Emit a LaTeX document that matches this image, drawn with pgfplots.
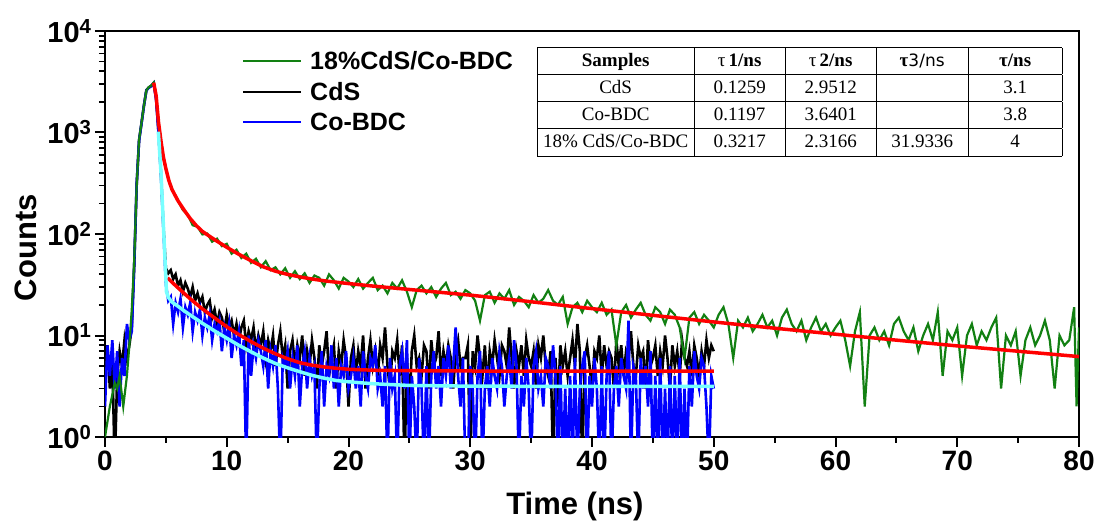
\documentclass[border=0pt]{standalone}
\usepackage{fontspec}
\setmainfont{Liberation Sans}
\newfontfamily\tabfont{Liberation Serif}
\newfontfamily\dvfont{DejaVu Sans}
\usepackage{pgfplots}
\pgfplotsset{compat=1.18}
\definecolor{dgreen}{RGB}{18,128,18}
\definecolor{dblue}{RGB}{0,0,255}
\definecolor{lcyan}{RGB}{120,255,255}
\definecolor{fred}{RGB}{255,0,0}
\begin{document}
\begin{tikzpicture}
\begin{axis}[name=ax, scale only axis, width=974pt, height=406pt,
  xmin=0, xmax=80, ymode=log, ymin=1, ymax=10000,
  xtick={0,10,...,80}, minor xtick={5,15,...,75},
  ytick={1,10,100,1000,10000},
  yticklabels={10\textsuperscript{0},10\textsuperscript{1},10\textsuperscript{2},10\textsuperscript{3},10\textsuperscript{4}},
  minor ytick={2,3,4,5,6,7,8,9,20,30,40,50,60,70,80,90,200,300,400,500,600,700,800,900,2000,3000,4000,5000,6000,7000,8000,9000},
  tick align=outside, xtick pos=left, ytick pos=left,
  major tick length=10pt, minor tick length=6pt,
  every major tick/.append style={black, line width=2pt},
  every minor tick/.append style={black, line width=1.8pt},
  axis line style={line width=2.2pt},
  xticklabel style={font=\fontsize{28}{30}\selectfont\bfseries, /pgf/number format/assume math mode=true},
  yticklabel style={font=\fontsize{29}{31}\selectfont\bfseries},
  xlabel={Time (ns)}, ylabel={Counts},
  label style={font=\fontsize{31}{34}\selectfont\bfseries},
  xlabel style={at={(axis description cs:0.4825,0)}, yshift=-69pt, anchor=center},
  ylabel style={at={(axis description cs:-0.081,0.466)}, anchor=center},
  legend cell align=left,
  legend style={draw=none, fill=none, at={(axis description cs:0.1407,0.955)}, anchor=north west,
    font=\fontsize{25}{28}\selectfont\bfseries, inner sep=0pt, row sep=7pt, column sep=6pt},
  legend image code/.code={\draw[#1, line width=2pt] (0pt,0pt) -- (58pt,0pt);},
]
\addlegendimage{dgreen}\addlegendentry{18\%CdS/Co-BDC}
\addlegendimage{black}\addlegendentry{CdS}
\addlegendimage{dblue}\addlegendentry{Co-BDC}

% CdS data
\addplot[black, line width=2.6pt, forget plot] coordinates {
(0,5)(0.2,8)(0.4,3)(0.6,6)(0.8,0.5)(1.0,4)(1.2,7)(1.4,5)(1.6,9)(1.8,6)(2.0,8)(2.2,12)(2.4,48)(2.6,300)(2.8,840)(3.0,1240)(3.2,1850)(3.4,2620)(3.6,2780)(3.8,2880)(4.0,3080)(4.2,2150)(4.4,1000)(4.6,390)(4.8,118)(5.0,46)(5.2,41)
(5.4,44)(5.6,36)(5.8,40)(6.0,31)(6.2,35)(6.4,27)(6.6,33)(6.8,29)(7.0,24)(7.2,30)(7.4,22)(7.6,26)(7.8,21)(8.0,24)(8.2,17)(8.4,20)(8.6,22)(8.8,15)(9.0,18)(9.2,13)(9.4,17)(9.6,15)(9.8,11)(10.0,16)
(10.2,12)(10.4,14)(10.6,10)(10.8,13)(11.0,9)(11.2,12)(11.4,14)(11.6,8)(11.8,11)(12.0,9)(12.2,12)(12.4,7)(12.6,10)(12.8,8)(13.0,11)(13.2,6)(13.4,9)(13.6,7)(13.8,10)(14.0,5)(14.2,8)(14.4,11)(14.6,6)(14.8,8)(15.0,3)
(15.2,7)(15.4,9)(15.6,5)(15.8,8)(16.0,6)(16.2,10)(16.4,4)(16.6,7)(16.8,5)(17.0,9)(17.2,6)(17.4,3)(17.6,8)(17.8,5)(18.0,7)(18.2,11)(18.4,4)(18.6,6)(18.8,8)(19.0,3)(19.2,7)(19.4,5)(19.6,9)(19.8,6)(20.0,2)
(20.2,6)(20.4,8)(20.6,4)(20.8,7)(21.0,5)(21.2,10)(21.4,3)(21.6,6)(21.8,9)(22.0,5)(22.2,7)(22.4,4)(22.6,8)(22.8,6)(23.0,12)(23.2,5)(23.4,3)(23.6,7)(23.8,6)(24.0,9)(24.2,4)(24.4,8)(24.6,0.5)(24.8,6)(25.0,2)(25.2,7)(25.4,10)(25.6,5)(25.8,6)(26.0,4)
(26.2,8)(26.4,7)(26.6,3)(26.8,9)(27.0,5)(27.2,6)(27.4,11)(27.6,4)(27.8,7)(28.0,5)(28.2,8)(28.4,6)(28.6,3)(28.8,7)(29.0,9)(29.2,5)(29.4,6)(29.6,6)(29.8,8)(30.0,0.5)(30.2,7)(30.4,5)(30.6,10)(30.8,6)(31.0,4)(31.2,8)(31.4,3)(31.6,7)(31.8,5)(32.0,9)
(32.2,6)(32.4,4)(32.6,8)(32.8,7)(33.0,5)(33.2,12)(33.4,6)(33.6,3)(33.8,7)(34.0,5)(34.2,8)(34.4,4)(34.6,9)(34.8,6)(35.0,5)(35.2,7)(35.4,3)(35.6,8)(35.8,6)(36.0,10)(36.2,5)(36.4,4)(36.6,7)(36.8,0.5)(37.0,6)(37.2,2)(37.4,8)(37.6,5)(37.8,7)(38.0,4)
(38.2,6)(38.4,9)(38.6,5)(38.8,13)(39.0,7)(39.2,0.5)(39.4,6)(39.6,8)(39.8,5)(40.0,3)(40.2,7)(40.4,6)(40.6,10)(40.8,4)(41.0,8)(41.2,5)(41.4,7)(41.6,6)(41.8,3)(42.0,9)(42.2,5)(42.4,8)(42.6,4)(42.8,7)(43.0,6)(43.2,11)(43.4,5)(43.6,4)(43.8,8)(44.0,6)
(44.2,7)(44.4,3)(44.6,9)(44.8,5)(45.0,6)(45.2,8)(45.4,4)(45.6,7)(45.8,5)(46.0,10)(46.2,6)(46.4,3)(46.6,8)(46.8,5)(47.0,7)(47.2,4)(47.4,9)(47.6,6)(47.8,5)(48.0,7)(48.2,4)(48.4,8)(48.6,6)(48.8,4)(49.0,7)(49.2,5)(49.4,9)(49.6,6)(49.8,8)(50.0,7)
};

% Co-BDC data
\addplot[dblue, line width=2.6pt, forget plot] coordinates {
(0,2)(0.2,8)(0.4,4)(0.6,9)(0.8,3)(1.0,7)(1.2,2)(1.4,6)(1.6,4)(1.8,13)(2.0,9)(2.2,11)(2.4,50)(2.6,310)(2.8,830)(3.0,1230)(3.2,1840)(3.4,2600)(3.6,2760)(3.8,2860)(4.0,3050)(4.2,2100)(4.4,980)(4.6,370)(4.8,110)(5.0,32)(5.2,22)
(5.4,24)(5.6,13)(5.8,21)(6.0,17)(6.2,23)(6.4,12)(6.6,19)(6.8,16)(7.0,21)(7.2,11)(7.4,17)(7.6,14)(7.8,18)(8.0,10)(8.2,15)(8.4,12)(8.6,16)(8.8,9)(9.0,13)(9.2,11)(9.4,14)(9.6,7)(9.8,12)(10.0,9)
(10.2,13)(10.4,6)(10.6,10)(10.8,8)(11.0,11)(11.2,5)(11.4,9)(11.6,0.5)(11.8,10)(12.0,4)(12.2,8)(12.4,6)(12.6,9)(12.8,7)(13.0,5)(13.2,9)(13.4,3)(13.6,7)(13.8,5)(14.0,8)(14.2,3)(14.4,0.5)(14.6,6)(14.8,5)(15.0,7)
(15.2,3)(15.4,6)(15.6,4)(15.8,8)(16.0,2)(16.2,5)(16.4,7)(16.6,3)(16.8,6)(17.0,4)(17.2,5)(17.4,0.5)(17.6,3)(17.8,7)(18.0,2)(18.2,5)(18.4,4)(18.6,8)(18.8,3)(19.0,6)(19.2,2)(19.4,5)(19.6,4)(19.8,7)(20.0,3)
(20.2,4)(20.4,6)(20.6,3)(20.8,5)(21.0,2)(21.2,7)(21.4,4)(21.6,3)(21.8,6)(22.0,5)(22.2,8)(22.4,3)(22.6,4)(22.8,2)(23.0,5)(23.2,0.5)(23.4,6)(23.6,3)(23.8,4)(24.0,0.5)(24.2,5)(24.4,7)(24.6,3)(24.8,9)(25.0,0.5)(25.2,4)(25.4,2)(25.6,0.5)(25.8,6)(26.0,3)
(26.2,0.5)(26.4,5)(26.6,0.5)(26.8,4)(27.0,7)(27.2,3)(27.4,5)(27.6,2)(27.8,6)(28.0,4)(28.2,8)(28.4,3)(28.6,5)(28.8,12)(29.0,4)(29.2,2)(29.4,6)(29.6,0.5)(29.8,0.5)(30.0,5)(30.2,3)(30.4,0.5)(30.6,4)(30.8,7)(31.0,0.5)(31.2,3)(31.4,5)(31.6,2)(31.8,6)(32.0,4)
(32.2,3)(32.4,7)(32.6,5)(32.8,2)(33.0,4)(33.2,6)(33.4,3)(33.6,9)(33.8,5)(34.0,0.5)(34.2,4)(34.4,2)(34.6,6)(34.8,3)(35.0,0.5)(35.2,5)(35.4,7)(35.6,3)(35.8,4)(36.0,2)(36.2,6)(36.4,5)(36.6,3)(36.8,8)(37.0,4)(37.2,0.5)(37.4,5)(37.6,0.5)(37.8,3)(38.0,0.5)
(38.2,4)(38.4,0.5)(38.6,6)(38.8,0.5)(39.0,3)(39.2,5)(39.4,7)(39.6,0.5)(39.8,4)(40.0,2)(40.2,6)(40.4,3)(40.6,0.5)(40.8,5)(41.0,0.5)(41.2,4)(41.4,7)(41.6,0.5)(41.8,3)(42.0,5)(42.2,2)(42.4,6)(42.6,4)(42.8,3)(43.0,14)(43.2,0.5)(43.4,5)(43.6,4)(43.8,0.5)(44.0,6)
(44.2,3)(44.4,5)(44.6,2)(44.8,7)(45.0,0.5)(45.2,4)(45.4,0.5)(45.6,6)(45.8,0.5)(46.0,3)(46.2,0.5)(46.4,5)(46.6,0.5)(46.8,4)(47.0,0.5)(47.2,6)(47.4,0.5)(47.6,3)(47.8,0.5)(48.0,5)(48.2,2)(48.4,7)(48.6,4)(48.8,3)(49.0,6)(49.2,5)(49.4,2)(49.6,0.5)(49.8,4)(50.0,3)
};

% 18% CdS/Co-BDC data
\addplot[dgreen, line width=2.2pt, forget plot] coordinates {
(0,1)(0.4,2)(0.8,3.4)(1.0,3)(1.2,4)(1.5,2)(1.8,4)(2.0,8)(2.2,18)(2.4,55)(2.6,300)(2.8,850)(3.0,1250)(3.2,1850)(3.4,2600)(3.6,2800)(3.8,2900)(4.0,3100)(4.2,2300)(4.4,1250)(4.6,820)(4.8,570)(5.0,440)(5.2,350)(5.6,262)
(6.0,212)(6.4,172)(6.8,155)(7.2,122)(7.6,118)(8.0,99)(8.4,101)(8.8,84)(9.2,90)(9.6,76)(10.0,80)(10.4,64)(10.8,70)(11.2,58)(11.6,64)(12.0,52)(12.4,57)(12.8,47)(13.2,54)(13.6,44)(14.0,47)(14.4,40)(14.8,46)(15.2,37)(15.6,43)
(16.0,36)(16.4,41)(16.8,33)(17.2,39)(17.6,37)(18.0,31)(18.4,40)(18.8,35)(19.2,29)(19.6,37)
(20.0,34)(20.4,30)(20.8,36)(21.2,29)(21.6,33)(22.0,37)(22.4,28)(22.8,31)(23.2,26)(23.6,33)(24.0,29)(24.4,35)(24.8,27)(25.2,19)(25.6,28)(26.0,31)(26.4,26)(26.8,30)(27.2,24)(27.6,29)
(28.0,33)(28.4,25)(28.8,27)(29.2,23)(29.6,28)(30.0,26)(30.4,22)(30.8,14)(31.2,25)(31.6,27)(32.0,21)(32.4,26)(32.8,23)(33.2,28)(33.6,20)(34.0,24)(34.4,22)(34.8,19)(35.2,25)(35.6,21)
(36.0,23)(36.4,28)(36.8,22)(37.2,20)(37.6,24)(38.0,13)(38.4,19)(38.8,21)(39.2,17)(39.6,22)(40.0,19)(40.4,17)(40.8,21)(41.2,16)(41.6,18)(42.0,8)(42.4,17)(42.8,20)(43.2,15)(43.6,18)
(44.0,21)(44.4,16)(44.8,14)(45.2,19)(45.6,17)(46.0,13)(46.4,18)(46.8,16)(47.2,12)(47.6,6)(48.0,15)(48.4,17)(48.8,13)(49.2,16)(49.6,14)(50.0,12)(50.4,16)(50.8,19)(51.2,13)(51.6,6)
(52.0,14)(52.4,12)(52.8,15)(53.2,11)(53.6,13)(54.0,16)(54.4,12)(54.8,14)(55.2,10)(55.6,15)(56.0,18)(56.4,13)(56.8,11)(57.2,14)(57.6,9)(58.0,12)(58.4,15)(58.8,11)(59.2,13)(59.6,10)
(60.0,12)(60.4,14)(60.8,9)(61.2,5)(61.6,11)(62.0,17)(62.4,2)(62.8,10)(63.2,12)(63.6,9)(64.0,11)(64.4,8)(64.8,13)(65.2,15)(65.6,11)(66.0,9)(66.4,12)(66.8,7)(67.2,10)(67.6,13)
(68.0,9)(68.4,17)(68.8,4)(69.2,11)(69.6,9)(70.0,12)(70.4,4)(70.8,10)(71.2,13)(71.6,8)(72.0,11)(72.4,9)(72.8,12)(73.2,15)(73.6,3)(74.0,10)(74.4,8)(74.8,11)(75.2,4)(75.6,9)
(76.0,12)(76.4,8)(76.8,10)(77.2,14)(77.6,9)(78.0,3)(78.4,10)(78.8,8)(79.2,9)(79.6,19)(79.8,2)(80.0,12)
};

% fit for 18% CdS/Co-BDC
\addplot[fred, line width=3.5pt, forget plot] coordinates {
(4.0,3100)(4.2,2300)(4.4,1250)(4.6,820)(4.8,570)(5.0,440)(5.25,335)(5.5,275)(6.0,212)(6.5,172)(7.0,142)(7.5,121)(8.0,106)(9,88)(10,74)(11,63)(12,54.5)(13,47.5)(14,43)(15,40)(16,37.8)(17,36)(18,34.6)(19,33.5)(20,32.5)
(22,30.7)(25,28.4)(30,25)(35,21.5)(40,18.4)(45,15.8)(50,13.6)(55,11.8)(60,10.3)(65,9.0)(70,7.9)(75,7.0)(80,6.2)
};
% fit for CdS
\addplot[fred, line width=3.5pt, forget plot] coordinates {
(5.14,37)(5.5,33.5)(6,29.5)(6.5,26)(7,23)(7.5,20.5)(8,18.3)(9,14.9)(10,12.2)(11,10.2)(12,8.7)(13,7.5)(14,6.6)(15,5.9)(16,5.4)(17,5.1)(18,4.9)(19,4.75)(20,4.65)(22,4.55)(25,4.5)(30,4.47)(40,4.46)(50,4.45)
};
% fit for Co-BDC
\addplot[lcyan, line width=3.5pt, forget plot] coordinates {
(4.38,1020)(4.6,400)(4.8,120)(4.93,55)(5.05,27)(5.2,23.8)(5.47,21.5)(6,19.4)(6.5,17.5)(7,15.9)(7.5,14.5)(8,13.2)(9,11.1)(10,9.4)(11,8.0)(12,6.9)(13,6.0)(14,5.3)(15,4.8)(16,4.4)(17,4.05)(18,3.8)(19,3.6)(20,3.5)(22,3.35)(25,3.22)(30,3.17)(40,3.15)(50,3.15)
};

\node[anchor=north west, inner sep=0pt] at (axis description cs:0.4435,0.9606) {%
  \tabfont\fontsize{19}{22}\selectfont
  \setlength{\tabcolsep}{0pt}\setlength{\arrayrulewidth}{0.9pt}\renewcommand{\arraystretch}{1.19}%
  \begin{tabular}{|c|c|c|c|c|}
  \hline
  \makebox[157pt]{\bfseries Samples} & \makebox[91pt]{τ\,\bfseries 1/ns} & \makebox[91pt]{τ\,\bfseries 2/ns} & \makebox[92pt]{\bfseries τ\mdseries\dvfont\fontsize{17}{20}\selectfont 3/ns} & \makebox[94pt]{\bfseries τ/ns}\\ \hline
  CdS & 0.1259 & 2.9512 & & 3.1\\ \hline
  Co-BDC & 0.1197 & 3.6401 & & 3.8\\ \hline
  18\% CdS/Co-BDC & 0.3217 & 2.3166 & 31.9336 & 4\\ \hline
  \end{tabular}};
\end{axis}
\pgfresetboundingbox
\path ([shift={(-105pt,-91pt)}]ax.south west) rectangle ([shift={(23pt,31pt)}]ax.north east);
\end{tikzpicture}
\end{document}
